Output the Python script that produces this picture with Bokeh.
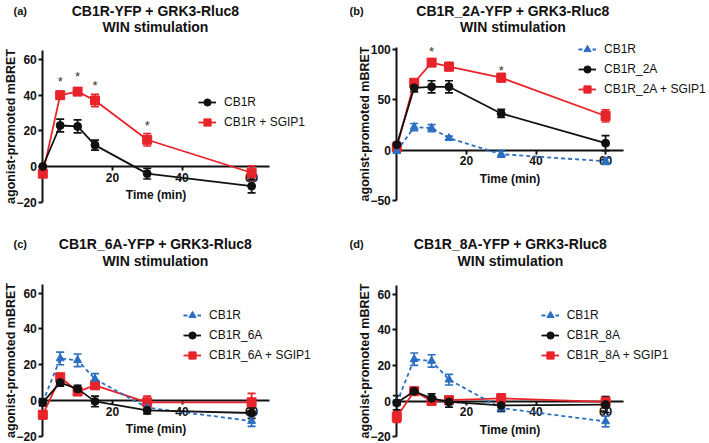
from bokeh.plotting import figure
from bokeh.models import (ColumnDataSource, Whisker, TeeHead, Legend, LegendItem,
                          Label, FixedTicker, Range1d)
from bokeh.layouts import row, column
from bokeh.core.properties import value
from bokeh.embed import file_html
from bokeh.resources import INLINE

# ---------------- data ----------------
TIME = [0, 5, 10, 15, 30, 60]

# (a) CB1R-YFP + GRK3-Rluc8
A_CB1R = [0, 23, 22.5, 12, -4, -11]
A_CB1R_ERR = [0, 3.6, 3.6, 2.8, 3, 3.8]
A_SGIP1 = [-4, 40, 42, 37, 15, -3.5]
A_SGIP1_ERR = [1, 2, 2, 3.5, 3.5, 3.8]
A_STAR_X = [5, 10, 15, 30]
A_STAR_Y = [49.4, 52, 47.3, 24.8]

# (b) CB1R_2A-YFP + GRK3-Rluc8
B_CB1R = [-1, 23, 22, 12, -4, -11]
B_CB1R_ERR = [1, 3.5, 3.5, 2, 3, 3]
B_2A = [5.5, 62, 63, 63, 36.5, 7]
B_2A_ERR = [2, 4, 6, 6, 4, 7.5]
B_2A_SGIP1 = [3, 67, 87, 83, 72, 34]
B_2A_SGIP1_ERR = [2, 3, 3, 4, 4, 6]
B_STAR_X = [10, 30]
B_STAR_Y = [101.3, 82.4]

# (c) CB1R_6A-YFP + GRK3-Rluc8
C_CB1R = [-1, 23.5, 22.5, 12, -4, -11.5]
C_CB1R_ERR = [1.5, 3.5, 3.5, 3, 2, 3]
C_6A = [-1, 10, 6.5, -0.5, -5.5, -7]
C_6A_ERR = [2, 2, 2, 3, 2, 3]
C_6A_SGIP1 = [-8, 13, 5, 8.5, -1, -1]
C_6A_SGIP1_ERR = [2, 2, 1.5, 2, 3.5, 5]

# (d) CB1R_8A-YFP + GRK3-Rluc8
D_CB1R = [-1, 23.5, 22.5, 12, -4, -11.5]
D_CB1R_ERR = [1.5, 3.5, 3.5, 3, 2, 3]
D_8A = [-1, 5.5, 1.5, -0.5, -2.5, -2]
D_8A_ERR = [4, 2, 2.5, 3, 3, 4.5]
D_8A_SGIP1 = [-9, 5.5, 0, 0.5, 1.5, -0.5]
D_8A_SGIP1_ERR = [3, 2, 2, 1, 2.5, 2]

X_TICKS = [20, 40, 60]
Y_TICKS_SMALL = [-20, 0, 20, 40, 60]
Y_TICKS_B = [-50, 0, 50, 100]

FONT = "Liberation Sans"
RED = "#E8232A"
BLUE = "#2B6FC0"
BLACK = "#111111"

STYLE = {
    "red": dict(color=RED, marker="square", size=9, dash="solid"),
    "blue": dict(color=BLUE, marker="triangle", size=8, dash="4 3"),
    "black": dict(color=BLACK, marker="circle", size=8, dash="solid"),
}


def make_panel(width, height, x0px, y0px, sx, sy, y_bounds, y_ticks,
               series, legend_order, legend_xy, stars, title_lines,
               title_x, title_ys, tag, tag_x):
    x_start = -x0px / sx
    x_end = x_start + width / sx
    y_end = y0px / sy
    y_start = -(height - y0px) / sy
    p = figure(width=width, height=height,
               x_range=Range1d(x_start, x_end), y_range=Range1d(y_start, y_end),
               output_backend="svg", toolbar_location=None, min_border=0)
    p.outline_line_color = None
    p.grid.grid_line_color = None
    p.title.visible = False
    p.background_fill_color = "white"

    xa = p.xaxis[0]
    ya = p.yaxis[0]
    xa.fixed_location = 0
    ya.fixed_location = 0
    xa.bounds = (0, 65)
    ya.bounds = y_bounds
    xa.ticker = FixedTicker(ticks=X_TICKS)
    ya.ticker = FixedTicker(ticks=y_ticks)
    xa.axis_label = "Time (min)"
    ya.axis_label = "agonist-promoted mBRET"
    for ax in (xa, ya):
        ax.level = "underlay"
        ax.axis_line_width = 2
        ax.axis_line_color = BLACK
        ax.major_tick_line_width = 2
        ax.major_tick_line_color = BLACK
        ax.major_tick_out = 4
        ax.major_tick_in = 0
        ax.minor_tick_out = 0
        ax.minor_tick_in = 0
        ax.major_label_text_font = FONT
        ax.major_label_text_font_style = "bold"
        ax.major_label_text_font_size = "12px"
        ax.major_label_text_color = BLACK
        ax.axis_label_text_font = FONT
        ax.axis_label_text_font_style = "bold"
        ax.axis_label_text_color = BLACK
    xa.axis_label_text_font_size = "12px"
    ya.axis_label_text_font_size = "12.5px"
    xa.major_label_standoff = 2
    ya.major_label_standoff = 2
    xa.axis_label_standoff = 3
    ya.axis_label_standoff = -5

    renderers = {}
    for key, (name, yvals, errs) in series:
        st = STYLE[key]
        lower = [v - e for v, e in zip(yvals, errs)]
        upper = [v + e for v, e in zip(yvals, errs)]
        src = ColumnDataSource(dict(x=TIME, y=yvals, lower=lower, upper=upper))
        wh = Whisker(source=src, base="x", lower="lower", upper="upper",
                     line_color=st["color"], line_width=1.7,
                     upper_head=TeeHead(size=8, line_color=st["color"], line_width=1.7),
                     lower_head=TeeHead(size=8, line_color=st["color"], line_width=1.7))
        p.add_layout(wh)
        lr = p.line("x", "y", source=src, line_color=st["color"], line_width=1.8,
                    line_dash=st["dash"])
        sr = p.scatter("x", "y", source=src, marker=st["marker"], size=st["size"],
                       fill_color=st["color"], line_color=st["color"])
        renderers[name] = [lr, sr]

    items = [LegendItem(label=n, renderers=renderers[n]) for n in legend_order]
    leg = Legend(items=items, location=legend_xy,
                 label_text_font=FONT, label_text_font_size="12px",
                 label_text_color=BLACK, glyph_width=18, glyph_height=20,
                 label_height=20, label_standoff=8, spacing=0, padding=0,
                 margin=0, border_line_color=None, background_fill_alpha=0)
    p.add_layout(leg)

    if stars:
        sx_, sy_ = stars
        p.text(x=sx_, y=sy_, text=["*"] * len(sx_), text_font=value(FONT),
               text_font_size="13px", text_align="center", text_baseline="middle",
               text_color="#333333", y_offset=3)

    for line, ty in zip(title_lines, title_ys):
        p.add_layout(Label(x=title_x, y=height - ty, x_units="screen", y_units="screen",
                           text=line, text_font=FONT, text_font_style="bold",
                           text_font_size="14px", text_align="center",
                           text_baseline="middle", text_color=BLACK))
    p.add_layout(Label(x=tag_x, y=height - title_ys[0], x_units="screen", y_units="screen",
                       text=tag, text_font=FONT, text_font_style="bold",
                       text_font_size="11px", text_align="left",
                       text_baseline="middle", text_color=BLACK))
    return p


LW, RW = 349, 360
TH, BH = 221, 222
SX = 3.48

pa = make_panel(LW, TH, 42.3, 166, SX, 1.783, (-20, 65), Y_TICKS_SMALL,
                [("red", ("CB1R + SGIP1", A_SGIP1, A_SGIP1_ERR)),
                 ("black", ("CB1R", A_CB1R, A_CB1R_ERR))],
                ["CB1R", "CB1R + SGIP1"], (198, 89.3),
                (A_STAR_X, A_STAR_Y),
                ["CB1R-YFP + GRK3-Rluc8", "WIN stimulation"], 155, [10, 26], "(a)", 13)

pb = make_panel(RW, TH, 47.3, 149.7, SX, 1.0067, (-50, 102), Y_TICKS_B,
                [("red", ("CB1R_2A + SGIP1", B_2A_SGIP1, B_2A_SGIP1_ERR)),
                 ("blue", ("CB1R", B_CB1R, B_CB1R_ERR)),
                 ("black", ("CB1R_2A", B_2A, B_2A_ERR))],
                ["CB1R", "CB1R_2A", "CB1R_2A + SGIP1"], (229, 122),
                (B_STAR_X, B_STAR_Y),
                ["CB1R_2A-YFP + GRK3-Rluc8", "WIN stimulation"], 163.5, [10, 26], "(b)", 0)

pc = make_panel(LW, BH, 42.3, 179, SX, 1.788, (-20, 65), Y_TICKS_SMALL,
                [("red", ("CB1R_6A + SGIP1", C_6A_SGIP1, C_6A_SGIP1_ERR)),
                 ("blue", ("CB1R", C_CB1R, C_CB1R_ERR)),
                 ("black", ("CB1R_6A", C_6A, C_6A_ERR))],
                ["CB1R", "CB1R_6A", "CB1R_6A + SGIP1"], (183, 78.5),
                None,
                ["CB1R_6A-YFP + GRK3-Rluc8", "WIN stimulation"], 155, [22, 39], "(c)", 13)

pd = make_panel(RW, BH, 47.3, 179.5, SX, 1.778, (-20, 65), Y_TICKS_SMALL,
                [("red", ("CB1R_8A + SGIP1", D_8A_SGIP1, D_8A_SGIP1_ERR)),
                 ("blue", ("CB1R", D_CB1R, D_CB1R_ERR)),
                 ("black", ("CB1R_8A", D_8A, D_8A_ERR))],
                ["CB1R", "CB1R_8A", "CB1R_8A + SGIP1"], (191.7, 78),
                None,
                ["CB1R_8A-YFP + GRK3-Rluc8", "WIN stimulation"], 161, [22, 39], "(d)", 0)

layout = column(row(pa, pb, spacing=0), row(pc, pd, spacing=0), spacing=0)
open("out.html", "w").write(file_html(layout, INLINE))
